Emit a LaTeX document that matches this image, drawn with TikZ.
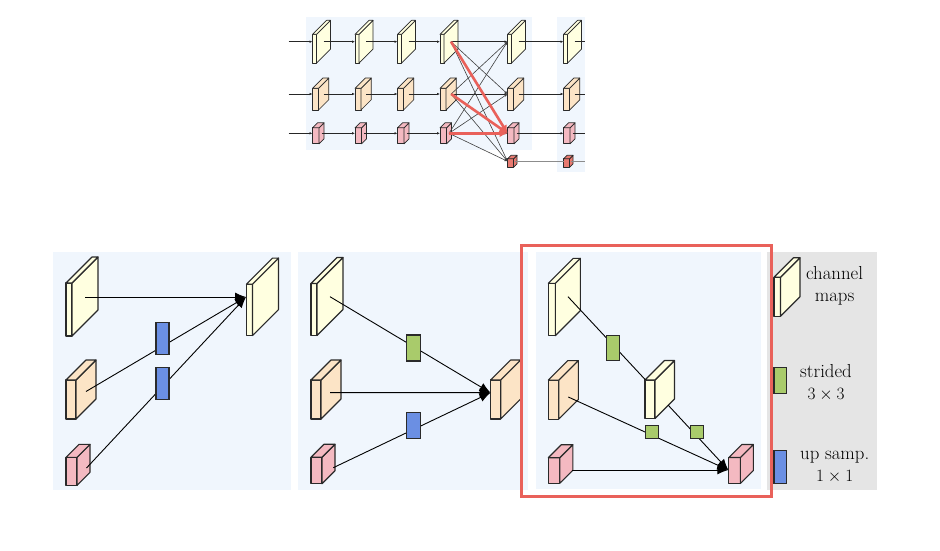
\documentclass[tikz,border=0pt]{standalone}
\usetikzlibrary{arrows.meta}

\definecolor{mapyellow}{HTML}{FFFFE0}
\definecolor{maporange}{HTML}{FCE4C6}
\definecolor{mappink}{HTML}{F4B9C1}
\definecolor{mapred}{HTML}{E87A70}
\definecolor{stridegreen}{HTML}{A9CB6B}
\definecolor{upblue}{HTML}{6B8FE3}
\definecolor{panelbg}{HTML}{F0F6FD}
\definecolor{legendbg}{HTML}{E5E5E5}
\definecolor{focusred}{HTML}{E9615A}
\definecolor{blockedge}{HTML}{2A2A2A}

% 3D channel map: name, front-left x, side-centre y, front width, height, depth, fill
\newcommand\cubeblk[7]{%
  \pgfmathsetmacro\cbT{#3-(#5)/2+(#6)/2}%
  \pgfmathsetmacro\cbR{#2+#4}%
  \pgfmathsetmacro\cbB{\cbT+#5}%
  \pgfmathsetmacro\cbC{\cbR+(#6)/2}%
  \path[blockline,fill=#7] (#2,\cbT) rectangle (\cbR,\cbB);
  \path[blockline,fill=#7] (\cbR,\cbT) -- ++(#6,-#6) -- ++(0,#5) -- (\cbR,\cbB) -- cycle;
  \path[blockline,fill=#7] (#2,\cbT) -- ++(#6,-#6) -- ++(#4,0) -- (\cbR,\cbT) -- cycle;
  \coordinate (#1-w) at (#2,#3);
  \coordinate (#1-c) at (\cbC,#3);
}

\tikzset{
  blockline/.style={draw=blockedge, line width=1.1pt, line join=round},
  panel/.style={fill=panelbg, draw=none},
  opbox/.style={draw=blockedge, line width=1.1pt, inner sep=0pt},
  stridebox/.style={opbox, fill=stridegreen},
  upbox/.style={opbox, fill=upblue},
  link/.style={draw=black, line width=0.9pt},
  linkarrow/.style={link, -{Latex[length=11pt,width=9pt]}},
  rowline/.style={draw=black!85, line width=0.8pt, -{Latex[length=3pt,width=2.6pt]}},
  crossline/.style={draw=black!75, line width=0.6pt, -{Latex[length=3pt,width=2.6pt]}},
  greyline/.style={draw=black!45, line width=0.8pt},
  hotarrow/.style={draw=focusred, line width=2.6pt, -{Latex[length=8pt,width=8pt]}},
  legtext/.style={align=center, inner sep=0pt, font=\fontsize{18.8}{22}\selectfont},
}

\begin{document}
\begin{tikzpicture}[x=1pt,y=-1pt]
\useasboundingbox (0,0) rectangle (940,551);

% ---------------- overview of the multi-resolution network ----------------
\fill[panelbg] (306,16.7) rectangle (531.7,150);
\fill[panelbg] (557.3,16.7) rectangle (585,171.7);

\begin{scope}[blockline/.append style={line width=0.7pt}]
\foreach \i/\xx in {1/312.5,2/355,3/397.5,4/440,5/507.5,6/563.5} {
  \cubeblk{tY\i}{\xx}{41.7}{4}{28.7}{14}{mapyellow}
  \cubeblk{tO\i}{\xx}{94}{6}{21.7}{10.3}{maporange}
  \cubeblk{tP\i}{\xx}{133.3}{6.5}{16}{5}{mappink}
}
\cubeblk{tR5}{507.5}{161.3}{6}{8.5}{3.5}{mapred}
\cubeblk{tR6}{563.5}{161.3}{6}{8.5}{3.5}{mapred}
\end{scope}

\coordinate (inY) at (288.5,41.7);
\coordinate (inO) at (288.5,94);
\coordinate (inP) at (288.5,133.3);
\coordinate (outY) at (585,41.7);
\coordinate (outO) at (585,94);
\coordinate (outP) at (585,133.3);
\coordinate (outR) at (585,161.3);

\foreach \r in {Y,O,P} {
  \draw[rowline] (in\r) -- (t\r1-w);
  \draw[rowline] (t\r1-c) -- (t\r2-w);
  \draw[rowline] (t\r2-c) -- (t\r3-w);
  \draw[rowline] (t\r3-c) -- (t\r4-w);
  \draw[rowline] (t\r4-c) -- (t\r5-w);
  \draw[rowline] (t\r5-c) -- (t\r6-w);
  \draw[rowline,-] (t\r6-c) -- (out\r);
}
\draw[greyline] (tR5-c) -- (tR6-w);
\draw[greyline] (tR6-c) -- (outR);

% fusion: every stream feeds every stream of the next stage
\foreach \s/\t in {Y/O,Y/P,Y/R,O/Y,O/P,O/R,P/Y,P/O,P/R}
  \draw[crossline] (t\s4-c) -- (t\t5-w);

\draw[hotarrow] (tY4-c) -- (tP5-w);
\draw[hotarrow] (tO4-c) -- (tP5-w);
\draw[hotarrow] (tP4-c) -- (tP5-w);

% ---------------- fusion towards the high-resolution stream ----------------
\fill[panelbg] (53,252) rectangle (291,490);
\cubeblk{a1}{66}{296.5}{6}{53}{26}{mapyellow}
\cubeblk{b1}{66}{389.5}{10}{39}{20}{maporange}
\cubeblk{c1}{66}{464.8}{11}{28}{13}{mappink}
\cubeblk{o1}{246.5}{296.8}{6}{51.5}{26}{mapyellow}
\coordinate (s11) at (85,297);
\coordinate (s12) at (86,391.5);
\coordinate (s13) at (86.5,468);
\coordinate (t1) at (246,297);
\draw[linkarrow] (s11) -- (t1);
\draw[linkarrow] (s12) -- (t1);
\draw[linkarrow] (s13) -- (t1);
\node[upbox, minimum width=13pt, minimum height=32pt] (u11) at (162.5,338.2) {};
\node[upbox, minimum width=13pt, minimum height=32.5pt] (u12) at (162.5,383.5) {};

% ---------------- fusion towards the medium-resolution stream ----------------
\fill[panelbg] (298,252) rectangle (528,490);
\cubeblk{a2}{311}{296.5}{6}{52}{26}{mapyellow}
\cubeblk{b2}{311}{389.5}{10}{39}{20}{maporange}
\cubeblk{c2}{311}{464}{11}{26.5}{13}{mappink}
\cubeblk{o2}{490.7}{389.5}{10}{39}{20}{maporange}
\coordinate (s21) at (330,296.7);
\coordinate (s22) at (330,392.6);
\coordinate (s23) at (333.3,467.7);
\coordinate (t2) at (490.5,392.7);
\draw[linkarrow] (s21) -- (t2);
\draw[linkarrow] (s22) -- (t2);
\draw[linkarrow] (s23) -- (t2);
\node[stridebox, minimum width=13.6pt, minimum height=26pt] (g21) at (413.5,348) {};
\node[upbox, minimum width=13.6pt, minimum height=26pt] (u21) at (413.5,425.3) {};

% ---------------- fusion towards the low-resolution stream ----------------
\fill[panelbg] (536,252) rectangle (761,489);
\cubeblk{a3}{548.3}{297}{7}{52.4}{25}{mapyellow}
\cubeblk{b3}{548.3}{389.8}{10.5}{39}{19.5}{maporange}
\cubeblk{c3}{548.3}{464}{11.5}{25.6}{13}{mappink}
\cubeblk{m3}{645}{389.5}{10}{38.5}{19.5}{mapyellow}
\cubeblk{o3}{728.8}{464}{11.5}{26}{13}{mappink}
\coordinate (s31) at (568,296.7);
\coordinate (m3in) at (645.3,379.7);
\coordinate (s32) at (568.3,397);
\coordinate (m3out) at (668.3,405.3);
\coordinate (s33) at (572.3,470);
\coordinate (t3) at (728.3,470);
\draw[link] (s31) -- (m3in);
\draw[linkarrow] (s32) -- (t3);
\draw[linkarrow] (m3out) -- (t3);
\draw[linkarrow] (s33) -- (t3);
\node[stridebox, minimum width=13.3pt, minimum height=25.5pt] (g31) at (613,348) {};
\node[stridebox, minimum width=13.3pt, minimum height=13.3pt] (g32) at (651.7,431.7) {};
\node[stridebox, minimum width=13.3pt, minimum height=13.3pt] (g33) at (696.7,431.7) {};

% ---------------- legend ----------------
\fill[legendbg] (767,252) rectangle (877,490);
\cubeblk{lg}{774}{287}{6.5}{39}{19.5}{mapyellow}
\node[stridebox, minimum width=12.7pt, minimum height=26pt] (lgs) at (780.3,380.3) {};
\node[upbox, minimum width=12.7pt, minimum height=32.6pt] (lgu) at (780.3,467) {};
\node[legtext, anchor=north] (lt1) at (834.5,266) {channel\\maps};
\node[legtext, anchor=north] (lt2) at (826,364) {strided\\$3\times3$};
\node[legtext, anchor=north] (lt3) at (834.7,451) {up samp.\\$1\times1$};

% highlighted panel
\node[draw=focusred, line width=3pt, inner sep=0pt, minimum width=250pt, minimum height=251pt] (focus) at (646.5,371) {};
\end{tikzpicture}
\end{document}
